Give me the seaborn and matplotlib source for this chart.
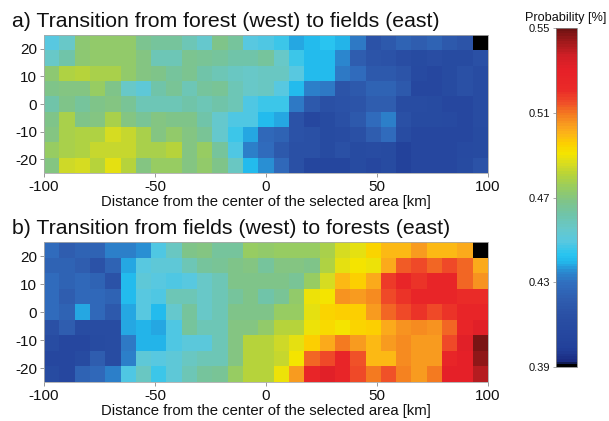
import numpy as np
import pandas as pd
import matplotlib
matplotlib.use("Agg")
import matplotlib.pyplot as plt
import seaborn as sns
from matplotlib.colors import LinearSegmentedColormap, Normalize

sns.set_theme(style="white")
plt.rcParams['font.family'] = ['Liberation Sans', 'DejaVu Sans']

# ---- data -------------------------------------------------------------
x_km = np.linspace(-100, 100, 30)[:-1] + 200 / 29 / 2   # cell centres (29 columns)
y_km = np.linspace(25, -25, 10)[:-1] - 50 / 9 / 2      # cell centres (9 rows, top->bottom)

titles = ["a) Transition from forest (west) to fields (east)",
          "b) Transition from fields (west) to forests (east)"]
xlabel = "Distance from the center of the selected area [km]"
cbar_label = "Probability [%]"
x_ticks = [-100, -50, 0, 50, 100]
y_ticks = [20, 10, 0, -10, -20]
cbar_ticks = [0.39, 0.43, 0.47, 0.51, 0.55]

forest_to_fields = [
    [0.449,0.456,0.472,0.473,0.473,0.473,0.467,0.464,0.464,0.460, 0.454,0.468,0.464,0.449,0.448,0.446,0.438,0.441,0.443,0.440, 0.432,0.416,0.419,0.425,0.422,0.425,0.419,0.417,0.390],
    [0.456,0.462,0.472,0.473,0.473,0.473,0.470,0.459,0.459,0.467, 0.465,0.464,0.462,0.462,0.464,0.456,0.446,0.441,0.441,0.435, 0.422,0.417,0.416,0.412,0.409,0.412,0.409,0.409,0.414],
    [0.472,0.480,0.481,0.478,0.478,0.473,0.470,0.468,0.464,0.467, 0.462,0.460,0.457,0.456,0.457,0.457,0.449,0.441,0.441,0.432, 0.428,0.419,0.419,0.417,0.408,0.406,0.409,0.414,0.411],
    [0.468,0.470,0.470,0.475,0.468,0.456,0.452,0.462,0.465,0.459, 0.464,0.465,0.460,0.456,0.457,0.449,0.441,0.433,0.432,0.417, 0.419,0.425,0.425,0.419,0.406,0.406,0.409,0.414,0.411],
    [0.462,0.468,0.464,0.468,0.470,0.465,0.459,0.459,0.459,0.462, 0.459,0.462,0.460,0.448,0.446,0.446,0.432,0.420,0.414,0.416, 0.417,0.422,0.422,0.411,0.411,0.409,0.406,0.406,0.411],
    [0.468,0.478,0.468,0.470,0.478,0.470,0.465,0.470,0.468,0.468, 0.462,0.454,0.448,0.448,0.441,0.438,0.416,0.406,0.409,0.414, 0.419,0.428,0.433,0.414,0.409,0.409,0.408,0.406,0.411],
    [0.470,0.478,0.480,0.480,0.486,0.483,0.478,0.470,0.473,0.470, 0.465,0.454,0.446,0.438,0.427,0.424,0.416,0.414,0.409,0.411, 0.414,0.422,0.428,0.411,0.406,0.406,0.406,0.406,0.409],
    [0.475,0.478,0.480,0.483,0.483,0.483,0.478,0.478,0.481,0.470, 0.475,0.464,0.448,0.433,0.428,0.420,0.414,0.414,0.409,0.414, 0.409,0.411,0.409,0.400,0.406,0.406,0.406,0.408,0.409],
    [0.470,0.484,0.486,0.481,0.488,0.481,0.470,0.475,0.475,0.470, 0.473,0.468,0.457,0.441,0.436,0.427,0.414,0.404,0.404,0.404, 0.409,0.406,0.409,0.400,0.406,0.406,0.406,0.409,0.416],
]

fields_to_forests = [
    [0.428,0.422,0.425,0.425,0.433,0.433,0.436,0.448,0.457,0.468, 0.470,0.464,0.464,0.475,0.473,0.475,0.475,0.475,0.478,0.486, 0.488,0.495,0.499,0.500,0.504,0.500,0.500,0.502,0.390],
    [0.425,0.425,0.422,0.416,0.425,0.438,0.449,0.452,0.452,0.459, 0.464,0.465,0.468,0.470,0.464,0.470,0.470,0.468,0.480,0.488, 0.491,0.490,0.502,0.513,0.516,0.512,0.516,0.512,0.502],
    [0.428,0.425,0.427,0.425,0.416,0.441,0.452,0.449,0.448,0.449, 0.456,0.460,0.468,0.468,0.468,0.468,0.465,0.475,0.486,0.499, 0.496,0.502,0.518,0.526,0.520,0.526,0.526,0.512,0.506],
    [0.428,0.422,0.427,0.427,0.425,0.441,0.449,0.448,0.460,0.460, 0.456,0.460,0.464,0.468,0.462,0.465,0.473,0.490,0.491,0.506, 0.505,0.507,0.516,0.520,0.526,0.526,0.526,0.521,0.521],
    [0.428,0.425,0.438,0.427,0.419,0.438,0.449,0.441,0.454,0.464, 0.456,0.460,0.468,0.468,0.468,0.475,0.475,0.488,0.495,0.496, 0.496,0.504,0.512,0.516,0.520,0.516,0.520,0.526,0.526],
    [0.414,0.422,0.411,0.411,0.411,0.438,0.440,0.438,0.448,0.464, 0.459,0.460,0.470,0.470,0.473,0.481,0.481,0.490,0.493,0.491, 0.495,0.496,0.502,0.506,0.507,0.506,0.512,0.526,0.532],
    [0.411,0.406,0.406,0.409,0.411,0.432,0.440,0.440,0.448,0.451, 0.451,0.460,0.470,0.481,0.481,0.484,0.488,0.496,0.502,0.509, 0.504,0.499,0.504,0.507,0.505,0.505,0.516,0.532,0.548],
    [0.406,0.406,0.409,0.422,0.411,0.433,0.452,0.449,0.452,0.457, 0.460,0.460,0.470,0.481,0.481,0.483,0.491,0.512,0.516,0.526, 0.515,0.500,0.500,0.507,0.505,0.505,0.526,0.531,0.545],
    [0.409,0.406,0.425,0.427,0.433,0.448,0.457,0.446,0.452,0.459, 0.464,0.465,0.475,0.481,0.481,0.490,0.504,0.526,0.532,0.526, 0.516,0.509,0.515,0.508,0.504,0.509,0.531,0.531,0.541],
]

# ---- colour map (custom jet-like with black floor) ---------------------
cmap_nodes = [
    (0.00, "#000000"), (0.012, "#1a2a80"), (0.05, "#22409a"), (0.15, "#2a50a5"),
    (0.20, "#2f5eb0"), (0.25, "#3070c0"), (0.28, "#2a8ad0"), (0.31, "#22b8ec"),
    (0.33, "#28c4f0"), (0.37, "#58c8e0"), (0.41, "#68c8c8"), (0.45, "#70c4a8"),
    (0.49, "#80c488"), (0.53, "#98cc60"), (0.57, "#b8d438"), (0.60, "#d8dc20"),
    (0.63, "#f4e400"), (0.66, "#fcd000"), (0.69, "#fcb418"), (0.72, "#f89820"),
    (0.75, "#f47820"), (0.78, "#f05028"), (0.82, "#ea2a28"), (0.88, "#e62028"),
    (0.92, "#d01f26"), (0.96, "#a41a1c"), (1.00, "#701212"),
]
cmap = LinearSegmentedColormap.from_list("prob", cmap_nodes, N=128)
vmin, vmax = 0.39, 0.55
norm = Normalize(vmin=vmin, vmax=vmax)

# ---- figure ------------------------------------------------------------
W, H = 609, 421
fig = plt.figure(figsize=(W / 100, H / 100), dpi=100)

axes_px = [(44, 35, 488, 173), (44, 242, 488, 382)]
title_y = [27, 234]
datasets = [forest_to_fields, fields_to_forests]

for (l, t, r, b), ty, ttl, data in zip(axes_px, title_y, titles, datasets):
    ax = fig.add_axes([l / W, 1 - b / H, (r - l) / W, (b - t) / H])
    df = pd.DataFrame(np.array(data), index=np.round(y_km, 2), columns=np.round(x_km, 2))
    sns.heatmap(df, ax=ax, cmap=cmap, norm=norm, cbar=False,
                xticklabels=False, yticklabels=False)
    ncol, nrow = df.shape[1], df.shape[0]
    ax.set_xticks([(v + 100) / 200 * ncol for v in x_ticks])
    ax.set_xticklabels([str(v) for v in x_ticks], fontsize=11, color="#111111")
    ax.set_yticks([(25 - v) / 50 * nrow for v in y_ticks])
    ax.set_yticklabels([str(v) for v in y_ticks], fontsize=11, color="#111111", rotation=0)
    ax.tick_params(axis="both", which="both", length=3, width=0.6, color="#888888",
                   pad=2, bottom=True, left=True, direction="out")
    ax.set_xlabel(xlabel, fontsize=10.7, color="#111111", labelpad=1)
    ax.set_ylabel("")
    for s in ax.spines.values():
        s.set_visible(True)
        s.set_linewidth(0.6)
        s.set_edgecolor("#aaaaaa")
    fig.text(12 / W, 1 - ty / H, ttl, fontsize=15.3, color="#111111",
             ha="left", va="baseline")

# colour bar
cb_l, cb_t, cb_r, cb_b = 556, 28, 577, 367
cax = fig.add_axes([cb_l / W, 1 - cb_b / H, (cb_r - cb_l) / W, (cb_b - cb_t) / H])
sm = plt.cm.ScalarMappable(norm=norm, cmap=cmap)
cb = fig.colorbar(sm, cax=cax, ticks=cbar_ticks)
cb.ax.yaxis.set_ticks_position("left")
cb.ax.set_yticklabels([f"{v:.2f}" for v in cbar_ticks], fontsize=8, color="#111111")
cb.ax.tick_params(length=2, width=0.5, color="#888888", pad=2)
cb.outline.set_linewidth(0.6)
cb.outline.set_edgecolor("#888888")
fig.text(566 / W, 1 - 21 / H, cbar_label, fontsize=9.2, color="#111111",
         ha="center", va="baseline")

fig.savefig("out.png", dpi=100)
